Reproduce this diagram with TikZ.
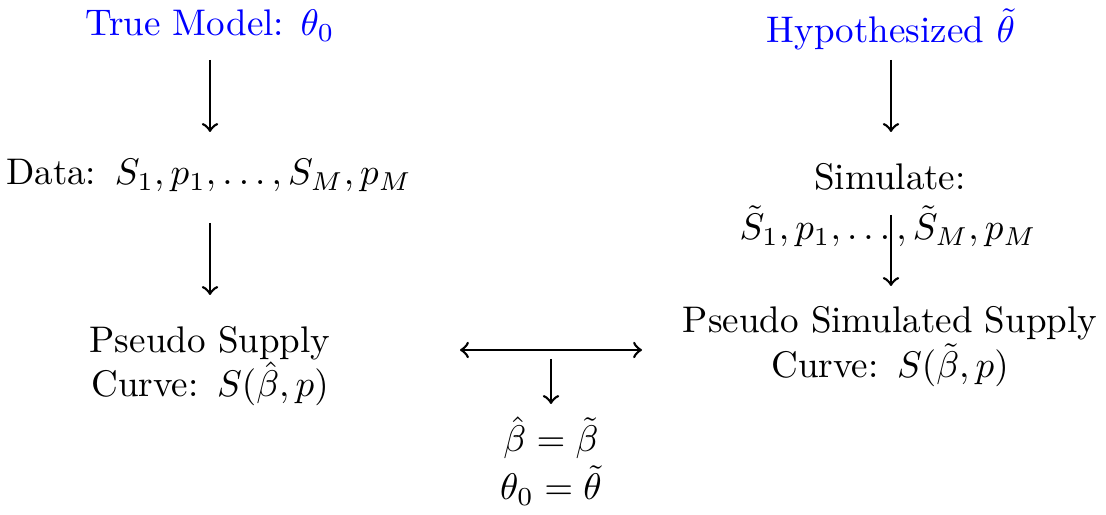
\documentclass[tikz,border=0pt]{standalone}
\usepackage{amsmath}
\begin{document}
\begin{tikzpicture}[x=0.27pt,y=-0.27pt,
  txt/.style={anchor=base,inner sep=0pt,outer sep=0pt},
  hyp/.style={txt,text=blue},
  arr/.style={-to,line width=0.7pt},
  darr/.style={to-to,line width=0.7pt}]
\useasboundingbox (0,0) rectangle (1106,515);
% left column
\node[hyp] (tm) at (210,36) {True Model: $\theta_0$};
\node[txt] (data) at (209,185) {Data:\hspace{0.6pt} $S_1,p_1,\ldots,S_M,p_M$};
\node[txt] (ps1) at (210,353) {Pseudo Supply};
\node[txt] (ps2) at (210,397) {Curve:\hspace{0.6pt} $S(\hat{\beta},p)$};
% right column
\node[hyp] (hy) at (891,43) {Hypothesized $\tilde{\theta}$};
\node[txt] (sim1) at (890,190) {Simulate:};
\node[txt] (sim2) at (888,240) {$\tilde{S}_1,p_1,\ldots,\tilde{S}_M,p_M$};
\node[txt] (pss1) at (890,333) {Pseudo Simulated Supply};
\node[txt] (pss2) at (890,378) {Curve:\hspace{0.6pt} $S(\tilde{\beta},p)$};
% middle
\node[txt] (eq1) at (551,452) {$\hat{\beta}=\tilde{\beta}$};
\node[txt] (eq2) at (551,500) {$\theta_0=\tilde{\theta}$};
% coordinates for arrows
\coordinate (a1s) at (210,60);  \coordinate (a1e) at (210,132);
\coordinate (a2s) at (210,223); \coordinate (a2e) at (210,295);
\coordinate (b1s) at (891,60);  \coordinate (b1e) at (891,132);
\coordinate (b2s) at (891,215); \coordinate (b2e) at (891,286);
\coordinate (hl) at (460,350);  \coordinate (hr) at (642,350);
\coordinate (ms) at (551,359);  \coordinate (me) at (551,404);
\draw[arr] (a1s -| tm) -- (a1e -| tm);
\draw[arr] (a2s) -- (a2e);
\draw[arr] (b1s) -- (b1e);
\draw[arr] (b2s) -- (b2e);
\draw[darr] (hl) -- (hr);
\draw[arr] (ms) -- (me);
\end{tikzpicture}
\end{document}
